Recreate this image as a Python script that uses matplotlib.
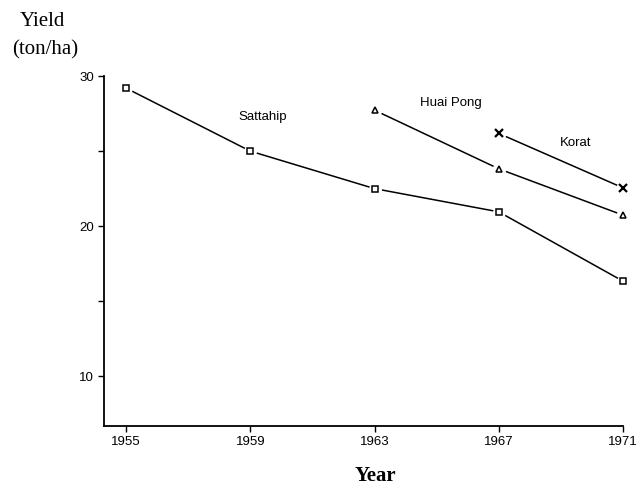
import numpy as np
import matplotlib
matplotlib.use("Agg")
from matplotlib import pyplot as plt

# values
years = [1955, 1959, 1963, 1967, 1971]
sattahip = [29.2, 25.0, 22.5, 20.95, 16.33]
huai_pong_years = [1963, 1967, 1971]
huai_pong = [27.73, 23.82, 20.73]
korat_years = [1967, 1971]
korat = [26.18, 22.55]

y_ticks = [10, 15, 20, 25, 30]
y_labels = ["10", "", "20", "", "30"]

fig = plt.figure(figsize=(6.38, 4.88), dpi=100)
ax = fig.add_axes([0.163, 0.127, 0.8135, 0.717])

def series(xs, ys, marker, ms, mew):
    ax.plot(xs, ys, color="black", lw=1.1, zorder=1, clip_on=False)
    # white blob hides the line right at the marker, like the original gaps
    ax.plot(xs, ys, ls="none", marker="o", ms=ms + 4, mfc="white", mec="white",
            zorder=2, clip_on=False)
    ax.plot(xs, ys, ls="none", marker=marker, ms=ms, mfc="white", mec="black",
            mew=mew, zorder=3, clip_on=False)

series(years, sattahip, "s", 4.3, 1.1)
series(huai_pong_years, huai_pong, "^", 4.8, 1.1)
series(korat_years, korat, "x", 5.2, 1.6)

ax.set_xlim(1954.29, 1971)
ax.set_ylim(6.67, 30)
ax.set_xticks(years)
ax.set_yticks(y_ticks)
ax.set_yticklabels(y_labels)

for side in ["top", "right"]:
    ax.spines[side].set_visible(False)
for side in ["left", "bottom"]:
    ax.spines[side].set_linewidth(1.3)

ax.tick_params(length=4, width=1, pad=3, labelsize=9.5)
for lab in ax.get_xticklabels() + ax.get_yticklabels():
    lab.set_family("Liberation Sans")

lab_font = dict(fontsize=9.5, family="Liberation Sans", ha="center", va="center")
ax.text(1959.41, 27.27, "Sattahip", **lab_font)
ax.text(1965.46, 28.2, "Huai Pong", **lab_font)
ax.text(1969.49, 25.53, "Korat", **lab_font)

fig.text(42 / 638, 1 - 22 / 488, "Yield", fontsize=15, family="Liberation Serif",
         ha="center", va="center")
fig.text(45 / 638, 1 - 50 / 488, "(ton/ha)", fontsize=15, family="Liberation Serif",
         ha="center", va="center")
fig.text(375 / 638, 1 - 476 / 488, "Year", fontsize=15, family="Liberation Serif",
         weight="bold", ha="center", va="center")

fig.savefig("out.png", dpi=100)
